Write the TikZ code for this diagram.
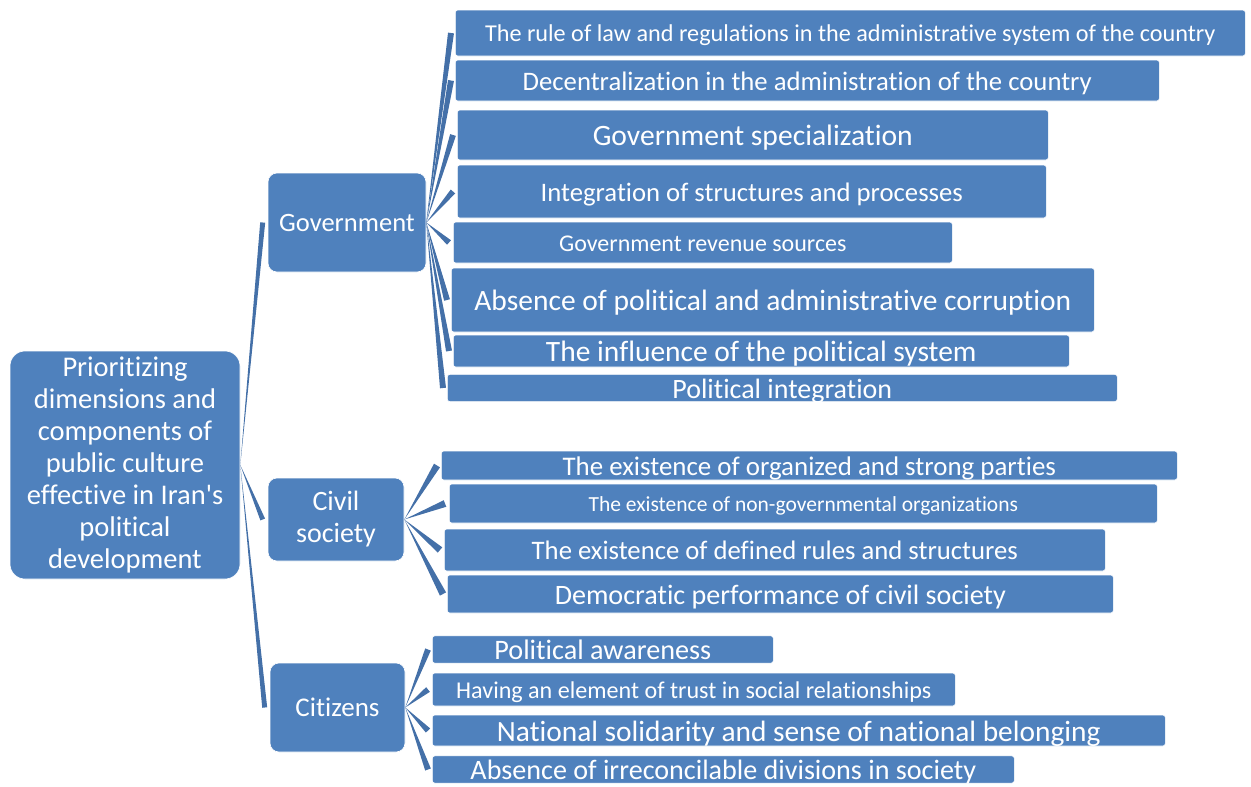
\documentclass[tikz,border=0pt]{standalone}
\usepackage{fontspec}
\setmainfont{Carlito}[Ligatures=NoCommon]
\newfontfamily\rawcarlito{Carlito}
\usetikzlibrary{calc}
\definecolor{boxblue}{HTML}{4F81BD}
\definecolor{spokeblue}{HTML}{4470A8}

% tapered connector: thin at the parent, wide at the child
\newcommand{\spoke}[3][2.5]{%
  \fill[spokeblue] (#2) -- ($(#3)!#1pt!90:(#2)$) -- ($(#3)!#1pt!-90:(#2)$) -- cycle;}

\begin{document}
\begin{tikzpicture}[x=1pt,y=-1pt,
  box/.style={fill=boxblue, draw=white, line width=.6pt, text=white, inner sep=0pt},
  topic/.style={box, rounded corners=9pt, align=center, font=\fontsize{27}{32}\selectfont},
  leaf/.style={box, rounded corners=2.5pt, anchor=west}]
\useasboundingbox (0,0) rectangle (1251,787);

\node[box, rounded corners=15pt, minimum width=230, minimum height=228, align=center,
  font=\fontsize{28.5}{32}\selectfont] (root) at (125,465)
  {Prioritizing\\dimensions and\\components of\\public culture\\effective in Iran{\rawcarlito'}s\\political\\development};

\node[topic, minimum width=158, minimum height=99, font=\fontsize{26.5}{32}\selectfont] (gov) at (347,222.5) {Government};
\node[topic, minimum width=136, minimum height=83, font=\fontsize{28}{32}\selectfont] (civ) at (336,519.5) {Civil\\society};
\node[topic, minimum width=135, minimum height=89] (cit) at (337.5,707.5) {Citizens};

% government components
\foreach \n/\x/\y/\w/\h/\s/\t [evaluate=\s as \th using 0.85*\s, evaluate=\s as \td using 0.12*\s] in {
  g1/455/33/790/46/24.2/The rule of law and regulations in the administrative system of the country,
  g2/455/80.5/704/41/26.7/Decentralization in the administration of the country,
  g3/457/135/591/50/29.6/Government specialization,
  g4/457/191.5/589/53/26.7/Integration of structures and processes,
  g5/453/242.5/499/41/24/Government revenue sources,
  g6/451/300/643/64/29.5/Absence of political and administrative corruption,
  g7/453/351/616/32/29.5/The influence of the political system,
  g8/447/388/670/26/28/Political integration} {
 \node[leaf, minimum width=\w, minimum height=\h, text height=\th pt, text depth=\td pt,
   font=\fontsize{\s}{\s}\selectfont] (\n) at (\x,\y) {\t};
 \path (\n.west) ++(-4,0) coordinate (\n-tip);
 \spoke[3]{gov.east}{\n-tip}
}

% civil society components
\foreach \n/\x/\y/\w/\h/\s/\t [evaluate=\s as \th using 0.85*\s, evaluate=\s as \td using 0.12*\s] in {
  c1/441/465.5/736/29/26.9/The existence of organized and strong parties,
  c2/449/503.5/708/39/21.5/The existence of non-governmental organizations,
  c3/444/550/661/42/26.7/The existence of defined rules and structures,
  c4/447/594/666/38/28.1/Democratic performance of civil society} {
 \node[leaf, minimum width=\w, minimum height=\h, text height=\th pt, text depth=\td pt,
   font=\fontsize{\s}{\s}\selectfont] (\n) at (\x,\y) {\t};
 \path (\n.west) ++(-4,0) coordinate (\n-tip);
 \spoke[3.5]{civ.east}{\n-tip}
}

% citizens components
\foreach \n/\x/\y/\w/\h/\s/\t [evaluate=\s as \th using 0.85*\s, evaluate=\s as \td using 0.12*\s] in {
  z1/432/649.5/341/27/28.2/Political awareness,
  z2/432/689.5/523/33/24.1/Having an element of trust in social relationships,
  z3/432/730.5/733/31/29.4/National solidarity and sense of national belonging,
  z4/432/769.5/582/27/28.1/Absence of irreconcilable divisions in society} {
 \node[leaf, minimum width=\w, minimum height=\h, text height=\th pt, text depth=\td pt,
   font=\fontsize{\s}{\s}\selectfont] (\n) at (\x,\y) {\t};
 \path (\n.west) ++(-4,0) coordinate (\n-tip);
 \spoke[3]{cit.east}{\n-tip}
}

\foreach \n in {gov,civ,cit} {
 \path (\n.west) ++(-5,0) coordinate (\n-tip);
 \spoke{root.east}{\n-tip}
}
\end{tikzpicture}
\end{document}
